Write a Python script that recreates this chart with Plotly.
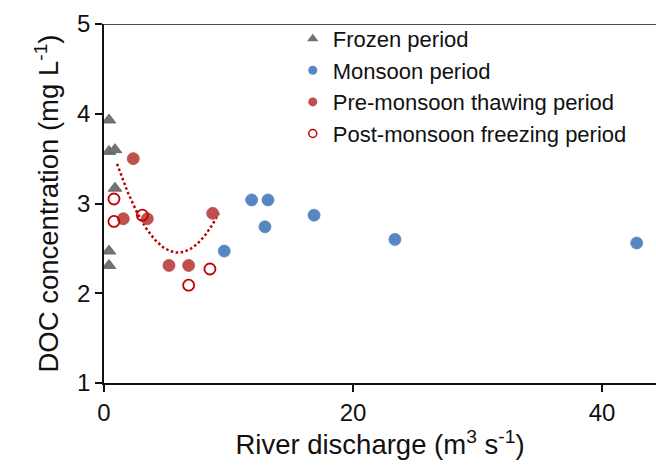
import numpy as np
import plotly.graph_objects as go

# ---- data ----
frozen_q = [0.40, 0.40, 0.88, 0.88, 0.40, 0.40]
frozen_doc = [3.93, 3.58, 3.60, 3.17, 2.47, 2.31]

monsoon_q = [9.66, 11.86, 13.17, 12.93, 16.87, 23.37, 42.79]
monsoon_doc = [2.47, 3.04, 3.04, 2.74, 2.87, 2.60, 2.56]

pre_q = [2.35, 1.55, 3.48, 5.22, 6.80, 8.73]
pre_doc = [3.50, 2.83, 2.83, 2.31, 2.31, 2.89]

post_q = [0.80, 0.80, 3.08, 6.80, 8.51]
post_doc = [3.05, 2.80, 2.87, 2.09, 2.27]

x_ticks = [0, 20, 40]
y_ticks = [1, 2, 3, 4, 5]
trend_forecast = 0.5  # trendline extended backward/forward (x units)

# ---- styles ----
FONT = "Liberation Sans, Arial, sans-serif"
GRAY = "#737373"
BLUE = "#5886c4"
RED = "#c0504d"
DRED = "#c00000"
INK = "#111111"

fig = go.Figure()

# polynomial (order 2) trendline of the pre-monsoon thawing period
coef = np.polyfit(pre_q, pre_doc, 2)
tx = np.linspace(min(pre_q) - trend_forecast, max(pre_q) + trend_forecast, 120)
ty = np.polyval(coef, tx)
fig.add_trace(go.Scatter(x=tx, y=ty, mode="lines", showlegend=False,
                         line=dict(color=DRED, width=2.5, dash="2.5px,2.5px"),
                         hoverinfo="skip"))

fig.add_trace(go.Scatter(x=frozen_q, y=frozen_doc, mode="markers", showlegend=False,
                         marker=dict(symbol="triangle-up", size=12, color=GRAY,
                                     line=dict(color="#606060", width=0.8))))
fig.add_trace(go.Scatter(x=monsoon_q, y=monsoon_doc, mode="markers", showlegend=False,
                         marker=dict(symbol="circle", size=12, color=BLUE,
                                     line=dict(color="#5a85c0", width=0.8))))
fig.add_trace(go.Scatter(x=pre_q, y=pre_doc, mode="markers", showlegend=False,
                         marker=dict(symbol="circle", size=12, color=RED,
                                     line=dict(color="#be4b48", width=0.8))))
fig.add_trace(go.Scatter(x=post_q, y=post_doc, mode="markers", showlegend=False,
                         marker=dict(symbol="circle-open", size=11, color=DRED,
                                     line=dict(color=DRED, width=1.8))))

# legend entries (smaller symbols as in the reference legend)
legend_items = [
    ("Frozen period", dict(symbol="triangle-up", size=10, color=GRAY)),
    ("Monsoon period", dict(symbol="circle", size=9, color=BLUE)),
    ("Pre-monsoon thawing period", dict(symbol="circle", size=9, color=RED)),
    ("Post-monsoon freezing period", dict(symbol="circle-open", size=8, color=DRED,
                                          line=dict(color=DRED, width=1.5))),
]
for name, mk in legend_items:
    fig.add_trace(go.Scatter(x=[None], y=[None], mode="markers", name=name, marker=mk))

axis_common = dict(showline=True, linecolor=INK, linewidth=1.5,
                   ticks="outside", ticklen=7, tickwidth=1.5, tickcolor=INK,
                   showgrid=False, zeroline=False,
                   tickfont=dict(size=24, color=INK, family=FONT))

fig.update_layout(
    width=656, height=471,
    margin=dict(l=104, r=0, t=24, b=88),
    paper_bgcolor="white", plot_bgcolor="white",
    font=dict(family=FONT, color=INK),
    xaxis=dict(range=[0, 44.34], tickvals=x_ticks, **axis_common,
               title=dict(text="River discharge (m<sup>3</sup> s<sup>-1</sup>)",
                          font=dict(size=27.5), standoff=8)),
    yaxis=dict(range=[1, 5], tickvals=y_ticks, **axis_common,
               title=dict(text="DOC concentration (mg L<sup>-1</sup>)",
                          font=dict(size=27.5), standoff=10)),
    legend=dict(x=0.342, y=1.017, xanchor="left", yanchor="top",
                bgcolor="rgba(0,0,0,0)", font=dict(size=22, family=FONT),
                itemwidth=30, tracegroupgap=0),
    shapes=[dict(type="line", xref="paper", yref="y", x0=0, x1=1, y0=5, y1=5,
                 line=dict(color=INK, width=1.5))],
)

fig.write_html("out.html")
